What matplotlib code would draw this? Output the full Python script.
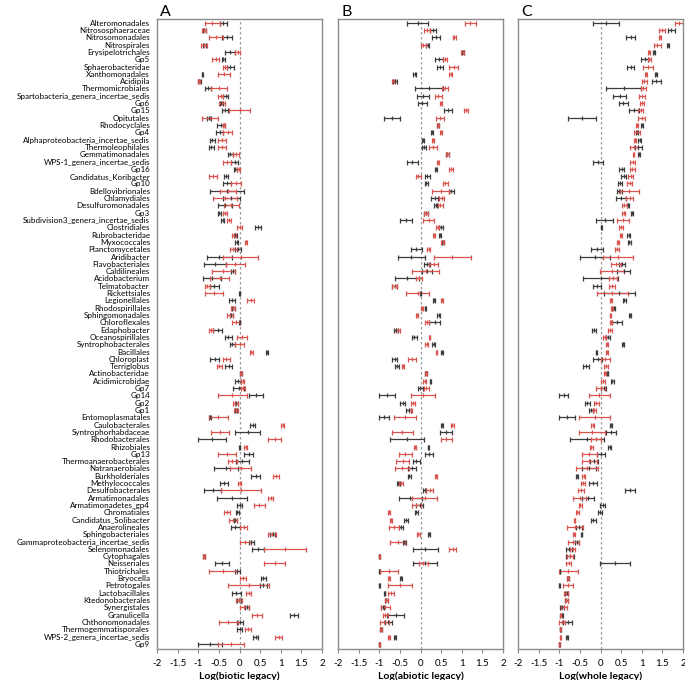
import matplotlib
matplotlib.use("Agg")
import matplotlib.pyplot as plt
import numpy as np

plt.rcParams['font.family'] = ['Lato', 'DejaVu Sans']

categories = [
    "Alteromonadales", "Nitrososphaeraceae", "Nitrosomonadales", "Nitrospirales",
    "Erysipelotrichales", "Gp5", "Sphaerobacteridae", "Xanthomonadales", "Acidipila",
    "Thermomicrobiales", "Spartobacteria_genera_incertae_sedis", "Gp6", "Gp15",
    "Opitutales", "Rhodocyclales", "Gp4", "Alphaproteobacteria_incertae_sedis",
    "Thermoleophilales", "Gemmatimonadales", "WPS-1_genera_incertae_sedis", "Gp16",
    "Candidatus_Koribacter", "Gp10", "Bdellovibrionales", "Chlamydiales",
    "Desulfuromonadales", "Gp3", "Subdivision3_genera_incertae_sedis", "Clostridiales",
    "Rubrobacteridae", "Myxococcales", "Planctomycetales", "Aridibacter",
    "Flavobacteriales", "Caldilineales", "Acidobacterium", "Telmatobacter",
    "Rickettsiales", "Legionellales", "Rhodospirillales", "Sphingomonadales",
    "Chloroflexales", "Edaphobacter", "Oceanospirillales", "Syntrophobacterales",
    "Bacillales", "Chloroplast", "Terriglobus", "Actinobacteridae", "Acidimicrobidae",
    "Gp7", "Gp14", "Gp2", "Gp1", "Entomoplasmatales", "Caulobacterales",
    "Syntrophorhabdaceae", "Rhodobacterales", "Rhizobiales", "Gp13",
    "Thermoanaerobacterales", "Natranaerobiales", "Burkholderiales", "Methylococcales",
    "Desulfobacterales", "Armatimonadales", "Armatimonadetes_gp4", "Chromatiales",
    "Candidatus_Solibacter", "Anaerolineales", "Sphingobacteriales",
    "Gammaproteobacteria_incertae_sedis", "Selenomonadales", "Cytophagales",
    "Neisseriales", "Thiotrichales", "Bryocella", "Petrotogales", "Lactobacillales",
    "Ktedonobacterales", "Synergistales", "Granulicella", "Chthonomonadales",
    "Thermogemmatisporales", "WPS-2_genera_incertae_sedis", "Gp9",
]

# panel A: biotic legacy
biotic_red_mean = [
    -0.66, -0.87, -0.57, -0.87, -0.04, -0.58, -0.36, -0.37, -0.98, -0.50,
    -0.45, -0.42, 0.00, -0.72, -0.37, -0.29, -0.43, -0.42, -0.09, -0.30,
    -0.02, -0.64, -0.09, -0.28, -0.35, -0.20, -0.35, -0.25, 0.00, -0.14,
    0.16, -0.15, 0.03, -0.10, -0.39, -0.48, -0.78, -0.62, 0.27, -0.15,
    -0.23, -0.09, -0.69, 0.06, 0.00, 0.29, -0.32, -0.49, 0.03, 0.08,
    0.08, -0.18, -0.10, -0.08, -0.51, 1.05, -0.48, 0.85, 0.15, -0.30,
    -0.18, 0.03, 0.88, 0.00, 0.03, 0.76, 0.48, -0.30, -0.16, 0.10,
    0.79, 0.14, 1.10, -0.86, 0.85, -0.40, 0.08, 0.22, 0.22, -0.01,
    0.12, 0.43, -0.27, 0.20, 0.95, -0.20,
]
biotic_red_err = [
    0.18, 0.05, 0.18, 0.07, 0.06, 0.09, 0.05, 0.14, 0.03, 0.20,
    0.06, 0.08, 0.25, 0.20, 0.03, 0.10, 0.10, 0.09, 0.07, 0.09,
    0.03, 0.09, 0.12, 0.20, 0.30, 0.18, 0.04, 0.05, 0.065, 0.05,
    0.03, 0.08, 0.43, 0.23, 0.27, 0.23, 0.06, 0.22, 0.09, 0.05,
    0.07, 0.09, 0.05, 0.12, 0.11, 0.03, 0.09, 0.06, 0.03, 0.04,
    0.05, 0.35, 0.06, 0.05, 0.22, 0.04, 0.22, 0.16, 0.03, 0.21,
    0.11, 0.25, 0.08, 0.03, 0.48, 0.06, 0.13, 0.07, 0.10, 0.09,
    0.09, 0.14, 0.50, 0.03, 0.26, 0.34, 0.08, 0.50, 0.07, 0.07,
    0.12, 0.12, 0.23, 0.07, 0.09, 0.31,
]
biotic_black_mean = [
    -0.39, -0.85, -0.30, -0.85, -0.23, -0.39, -0.22, -0.90, -0.97, -0.77,
    -0.33, -0.44, -0.35, -0.75, -0.44, -0.48, -0.66, -0.68, -0.22, -0.12,
    -0.10, -0.33, -0.30, -0.30, -0.20, -0.35, -0.49, -0.41, 0.44, -0.10,
    -0.07, -0.03, -0.49, -0.59, -0.15, -0.66, -0.61, 0.00, -0.19, -0.15,
    -0.20, 0.00, -0.53, -0.27, -0.17, 0.67, -0.60, -0.26, 0.03, -0.03,
    -0.02, 0.40, -0.08, -0.08, -0.72, 0.32, 0.20, -0.66, 0.00, 0.22,
    0.07, -0.33, 0.39, -0.37, -0.65, -0.18, 0.00, -0.05, -0.10, -0.10,
    0.80, 0.28, 0.45, -0.86, -0.42, -0.05, 0.58, 0.58, -0.08, -0.01,
    0.18, 1.33, 0.02, 0.00, 0.39, -0.71,
]
biotic_black_err = [
    0.09, 0.04, 0.12, 0.04, 0.11, 0.04, 0.08, 0.02, 0.03, 0.07,
    0.06, 0.03, 0.07, 0.05, 0.10, 0.09, 0.06, 0.07, 0.06, 0.09,
    0.03, 0.05, 0.09, 0.42, 0.20, 0.18, 0.03, 0.03, 0.07, 0.04,
    0.03, 0.07, 0.31, 0.26, 0.05, 0.22, 0.11, 0.01, 0.07, 0.03,
    0.04, 0.02, 0.11, 0.08, 0.07, 0.03, 0.11, 0.08, 0.03, 0.07,
    0.13, 0.17, 0.04, 0.03, 0.03, 0.06, 0.30, 0.34, 0.02, 0.11,
    0.15, 0.30, 0.10, 0.10, 0.21, 0.36, 0.065, 0.03, 0.04, 0.11,
    0.05, 0.06, 0.15, 0.03, 0.17, 0.06, 0.07, 0.08, 0.11, 0.05,
    0.05, 0.10, 0.07, 0.05, 0.06, 0.29,
]

# panel B: abiotic legacy
abiotic_red_mean = [
    1.21, 0.15, 0.82, 0.07, 1.02, 0.59, 0.80, 0.73, -0.65, 0.60,
    0.43, 0.50, 1.10, 0.48, 0.43, 0.50, 0.31, 0.30, 0.65, 0.43,
    0.73, -0.06, 0.60, 0.49, 0.52, 0.48, 0.13, 0.20, 0.42, 0.33,
    0.54, 0.20, 0.77, 0.32, 0.13, -0.04, -0.63, -0.07, 0.52, 0.04,
    -0.09, 0.15, -0.55, 0.22, 0.15, 0.39, -0.21, -0.43, 0.13, 0.10,
    0.14, 0.06, -0.19, -0.24, -0.38, 0.77, -0.44, 0.63, -0.14, -0.37,
    -0.43, -0.45, 0.38, -0.47, 0.22, 0.10, -0.10, -0.76, -0.72, -0.64,
    -0.05, -0.55, 0.78, -1.00, 0.07, -0.77, -0.77, -0.50, -0.72, -0.83,
    -0.85, -0.85, -0.88, -0.96, -0.77, -1.00,
]
abiotic_red_err = [
    0.14, 0.07, 0.04, 0.07, 0.04, 0.05, 0.11, 0.03, 0.04, 0.07,
    0.08, 0.03, 0.05, 0.10, 0.02, 0.03, 0.02, 0.10, 0.03, 0.03,
    0.05, 0.06, 0.06, 0.21, 0.06, 0.06, 0.04, 0.13, 0.04, 0.03,
    0.04, 0.04, 0.45, 0.11, 0.33, 0.07, 0.05, 0.27, 0.03, 0.02,
    0.02, 0.05, 0.05, 0.02, 0.03, 0.02, 0.09, 0.03, 0.03, 0.03,
    0.06, 0.28, 0.05, 0.03, 0.27, 0.03, 0.25, 0.13, 0.02, 0.16,
    0.16, 0.17, 0.03, 0.05, 0.08, 0.30, 0.10, 0.02, 0.02, 0.12,
    0.03, 0.18, 0.08, 0.01, 0.10, 0.22, 0.03, 0.30, 0.08, 0.03,
    0.10, 0.07, 0.11, 0.03, 0.03, 0.01,
]
abiotic_black_mean = [
    -0.07, 0.30, 0.38, 0.17, 1.03, 0.45, 0.47, -0.14, -0.62, 0.21,
    0.06, 0.04, 0.66, -0.69, 0.43, 0.28, 0.06, 0.09, 0.65, -0.20,
    0.38, 0.16, 0.14, 0.75, 0.34, 0.37, 0.13, -0.35, 0.50, 0.48,
    0.55, -0.10, -0.22, 0.15, 0.15, -0.33, -0.63, 0.00, 0.33, 0.12,
    0.44, 0.34, -0.60, -0.15, 0.32, 0.52, -0.63, -0.58, 0.13, 0.24,
    -0.01, -0.82, -0.43, -0.29, -0.89, 0.52, 0.62, -0.33, 0.19, 0.21,
    -0.10, -0.20, -0.27, -0.54, 0.10, -0.25, -0.02, -0.10, -0.35, -0.48,
    0.20, -0.39, 0.12, -1.00, 0.10, -1.00, -0.47, -1.00, -0.87, -0.83,
    -0.92, -0.60, -0.78, -0.96, -0.62, -1.00,
]
abiotic_black_err = [
    0.25, 0.08, 0.10, 0.04, 0.03, 0.09, 0.07, 0.03, 0.04, 0.34,
    0.14, 0.11, 0.10, 0.20, 0.02, 0.03, 0.03, 0.05, 0.03, 0.13,
    0.03, 0.06, 0.03, 0.06, 0.08, 0.04, 0.04, 0.14, 0.04, 0.02,
    0.03, 0.14, 0.33, 0.07, 0.12, 0.30, 0.05, 0.02, 0.03, 0.02,
    0.03, 0.14, 0.05, 0.06, 0.03, 0.02, 0.07, 0.05, 0.03, 0.02,
    0.06, 0.19, 0.06, 0.06, 0.12, 0.02, 0.15, 0.41, 0.02, 0.09,
    0.08, 0.10, 0.03, 0.04, 0.03, 0.28, 0.08, 0.04, 0.04, 0.05,
    0.02, 0.04, 0.30, 0.01, 0.29, 0.01, 0.03, 0.01, 0.02, 0.03,
    0.03, 0.21, 0.09, 0.03, 0.02, 0.01,
]

# panel C: whole legacy
whole_red_mean = [
    1.90, 1.50, 1.44, 1.38, 1.18, 1.18, 1.16, 1.10, 1.06, 1.04,
    1.01, 1.01, 0.97, 1.00, 0.89, 0.88, 0.83, 0.82, 0.80, 0.78,
    0.77, 0.73, 0.71, 0.70, 0.71, 0.58, 0.56, 0.55, 0.50, 0.50,
    0.43, 0.40, 0.43, 0.38, 0.27, 0.30, 0.28, 0.29, 0.25, 0.28,
    0.24, 0.26, 0.24, 0.10, 0.16, 0.16, 0.12, 0.13, 0.11, 0.06,
    0.00, -0.03, -0.10, -0.15, -0.14, -0.19, -0.20, -0.12, -0.22, -0.27,
    -0.27, -0.33, -0.41, -0.43, -0.47, -0.50, -0.49, -0.56, -0.63, -0.62,
    -0.64, -0.66, -0.67, -0.74, -0.77, -0.78, -0.79, -0.79, -0.83, -0.83,
    -0.88, -0.95, -0.93, -0.97, -0.97, -1.00,
]
whole_red_err = [
    0.09, 0.07, 0.03, 0.09, 0.03, 0.04, 0.12, 0.03, 0.06, 0.06,
    0.07, 0.05, 0.07, 0.09, 0.03, 0.07, 0.02, 0.10, 0.02, 0.06,
    0.06, 0.06, 0.06, 0.23, 0.08, 0.07, 0.04, 0.14, 0.05, 0.03,
    0.03, 0.05, 0.36, 0.12, 0.29, 0.10, 0.08, 0.37, 0.03, 0.03,
    0.02, 0.03, 0.05, 0.03, 0.02, 0.02, 0.10, 0.04, 0.02, 0.05,
    0.12, 0.25, 0.06, 0.04, 0.38, 0.03, 0.32, 0.12, 0.03, 0.18,
    0.19, 0.26, 0.03, 0.05, 0.08, 0.16, 0.04, 0.04, 0.02, 0.19,
    0.02, 0.14, 0.06, 0.08, 0.06, 0.23, 0.02, 0.13, 0.05, 0.04,
    0.07, 0.02, 0.07, 0.02, 0.02, 0.01,
]
whole_black_mean = [
    0.13, 1.72, 0.73, 1.63, 1.30, 1.07, 0.73, 1.35, 1.35, 0.56,
    0.47, 0.55, 0.82, -0.45, 1.00, 0.88, 0.95, 0.92, 0.93, -0.06,
    0.51, 0.56, 0.48, 0.46, 0.50, 0.67, 0.76, 0.10, 0.02, 0.68,
    0.70, -0.08, -0.14, 0.52, 0.56, 0.00, -0.08, 0.46, 0.58, 0.32,
    0.71, 0.40, -0.15, 0.18, 0.55, -0.10, -0.07, -0.36, 0.17, 0.29,
    0.08, -0.89, -0.32, -0.23, -0.81, 0.25, 0.25, -0.33, 0.22, 0.01,
    -0.15, -0.28, -0.57, -0.18, 0.72, -0.30, 0.05, -0.02, -0.17, -0.52,
    -0.46, -0.57, -0.76, -0.74, 0.35, -0.98, -0.79, -1.00, -0.82, -0.83,
    -0.93, -0.94, -0.80, -0.97, -0.81, -1.00,
]
whole_black_err = [
    0.32, 0.08, 0.10, 0.03, 0.03, 0.09, 0.08, 0.03, 0.11, 0.42,
    0.16, 0.11, 0.12, 0.34, 0.03, 0.03, 0.03, 0.08, 0.02, 0.12,
    0.05, 0.07, 0.05, 0.06, 0.13, 0.02, 0.03, 0.20, 0.02, 0.03,
    0.03, 0.14, 0.36, 0.07, 0.15, 0.42, 0.10, 0.37, 0.03, 0.03,
    0.03, 0.12, 0.05, 0.04, 0.03, 0.02, 0.10, 0.07, 0.02, 0.03,
    0.06, 0.11, 0.06, 0.04, 0.20, 0.03, 0.12, 0.41, 0.03, 0.09,
    0.10, 0.17, 0.03, 0.10, 0.12, 0.15, 0.06, 0.05, 0.05, 0.08,
    0.02, 0.06, 0.08, 0.10, 0.36, 0.01, 0.02, 0.01, 0.04, 0.04,
    0.04, 0.03, 0.10, 0.02, 0.02, 0.01,
]

panels = [
    ("A", "Log(biotic legacy)", biotic_red_mean, biotic_red_err, biotic_black_mean, biotic_black_err),
    ("B", "Log(abiotic legacy)", abiotic_red_mean, abiotic_red_err, abiotic_black_mean, abiotic_black_err),
    ("C", "Log(whole legacy)", whole_red_mean, whole_red_err, whole_black_mean, whole_black_err),
]

RED = "#d9534f"
BLACK = "#3c3c3c"
FRAME = "#8c8c8c"

fig = plt.figure(figsize=(6.85, 6.8), dpi=100)
lefts = [157 / 685, 338 / 685, 518 / 685]
width = 165 / 685
bottom = 1 - 649 / 680
height = (649 - 19) / 680

y = np.arange(len(categories))

for left, (letter, xlabel, rm, re_, bm, be) in zip(lefts, panels):
    ax = fig.add_axes([left, bottom, width, height])
    ax.axvline(0, color="#9a9a9a", lw=0.9, ls=(0, (2, 2)), zorder=1)
    style = dict(fmt="|", ms=3.5, mew=0.9, elinewidth=0.9, capsize=1.8, capthick=0.9, zorder=2)
    ax.errorbar(bm, y, xerr=be, color=BLACK, **style)
    ax.errorbar(rm, y, xerr=re_, color=RED, **style)

    ax.set_xlim(-2, 2)
    ax.set_ylim(len(categories) - 0.3, -0.5)
    ax.set_xticks([-2, -1.5, -1, -0.5, 0, 0.5, 1, 1.5, 2])
    ax.set_xticklabels(["-2", "-1.5", "-1", "-0.5", "0", "0.5", "1", "1.5", "2"])
    ax.tick_params(axis="x", direction="out", length=3, width=0.8, color=FRAME,
                   labelsize=7, pad=4)
    for s in ax.spines.values():
        s.set_color(FRAME)
        s.set_linewidth(1.0)
    ax.set_xlabel(xlabel, fontsize=7.5, fontweight="bold", labelpad=3)
    # panel letter sits just above the frame
    ax.text(0.02, 1.004, letter, transform=ax.transAxes, fontsize=11.5,
            ha="left", va="baseline")

    if letter == "A":
        ax.set_yticks(y)
        ax.set_yticklabels(categories, fontsize=5.8)
        ax.tick_params(axis="y", length=0, pad=5)
    else:
        ax.set_yticks([])

fig.savefig("out.png", dpi=100)
plt.close()
